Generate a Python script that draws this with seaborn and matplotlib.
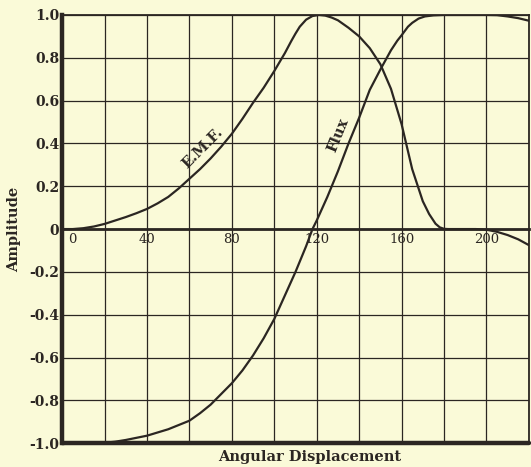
import matplotlib.pyplot as plt
import matplotlib.transforms as mtransforms
import seaborn as sns
import pandas as pd

# values (degrees -> amplitude)
emf_deg = [0, 5, 10, 15, 20, 25, 30, 35, 40, 45, 50, 55, 60, 65, 70, 75, 80, 85,
           90, 95, 100, 105, 108, 110, 112, 115, 118, 121, 124, 127, 130, 135, 140,
           145, 150, 155, 160, 165, 170, 173, 176, 178, 180, 182, 190, 195, 200,
           205, 210, 215, 220]
emf_amp = [0.0, 0.0, 0.004, 0.012, 0.024, 0.04, 0.056, 0.074, 0.094, 0.12, 0.15,
           0.19, 0.235, 0.28, 0.33, 0.385, 0.445, 0.515, 0.59, 0.66, 0.738, 0.822,
           0.878, 0.913, 0.945, 0.978, 0.995, 1.0, 0.997, 0.988, 0.975, 0.94, 0.9,
           0.845, 0.77, 0.655, 0.49, 0.28, 0.13, 0.07, 0.025, 0.008, 0.001, 0.0,
           0.0, 0.0, -0.003, -0.013, -0.028, -0.048, -0.075]

flux_deg = [0, 5, 10, 15, 20, 25, 30, 35, 40, 45, 50, 55, 60, 65, 70, 75, 80, 85,
            90, 95, 100, 105, 110, 115, 118, 120, 125, 130, 135, 140, 145, 150,
            155, 158, 160, 163, 165, 168, 171, 175, 180, 190, 200, 205, 210, 215, 220]
flux_amp = [-1.0, -1.0, -1.0, -1.0, -0.998, -0.993, -0.985, -0.975, -0.965, -0.95,
            -0.935, -0.915, -0.895, -0.86, -0.82, -0.77, -0.72, -0.66, -0.59,
            -0.51, -0.42, -0.31, -0.2, -0.08, 0.0, 0.04, 0.15, 0.27, 0.4, 0.52,
            0.65, 0.745, 0.835, 0.88, 0.905, 0.945, 0.963, 0.983, 0.993, 0.998,
            1.0, 1.0, 1.0, 0.999, 0.993, 0.985, 0.973]

x_ticks = [0, 40, 80, 120, 160, 200]
x_grid = [20, 60, 100, 140, 180, 220]
y_ticks = [1.0, 0.8, 0.6, 0.4, 0.2, 0.0, -0.2, -0.4, -0.6, -0.8, -1.0]
y_labels = ["1.0", "0.8", "0.6", "0.4", "0.2", "0", "-0.2", "-0.4", "-0.6", "-0.8", "-1.0"]

paper = "#fafad8"
ink = "#2b2622"

sns.set_style("white")
plt.rcParams["font.family"] = ["DejaVu Serif"]

fig, ax = plt.subplots(figsize=(5.31, 4.67), dpi=100)
fig.patch.set_facecolor(paper)
ax.set_facecolor(paper)
fig.subplots_adjust(left=0.117, right=0.996, bottom=0.051, top=0.968)

emf = pd.DataFrame({"deg": emf_deg, "amp": emf_amp})
flux = pd.DataFrame({"deg": flux_deg, "amp": flux_amp})
sns.lineplot(data=emf, x="deg", y="amp", color=ink, lw=1.6, ax=ax, zorder=5)
sns.lineplot(data=flux, x="deg", y="amp", color=ink, lw=1.6, ax=ax, zorder=5)

ax.set_xlim(0, 220)
ax.set_ylim(-1.0, 1.0)

# zero line carries the x labels; frame at -1.0 drawn separately
ax.spines["bottom"].set_position(("data", 0))
ax.spines["bottom"].set_linewidth(2.0)
ax.spines["left"].set_linewidth(3.2)
ax.spines["top"].set_linewidth(1.3)
ax.spines["right"].set_linewidth(1.3)
for s in ax.spines.values():
    s.set_color(ink)
    s.set_zorder(6)
ax.axhline(-1.0, color=ink, lw=3.2, zorder=6, clip_on=False)

ax.set_xticks(x_ticks)
ax.set_xticks(x_grid, minor=True)
ax.set_yticks(y_ticks)
ax.set_yticklabels(y_labels, fontweight="bold", fontsize=10)
ax.set_xticklabels([str(v) for v in x_ticks], fontsize=9.5)
ax.tick_params(axis="both", which="both", length=0)
ax.tick_params(axis="x", pad=3, colors=ink)
ax.tick_params(axis="y", pad=2, colors=ink)

# the "0" label sits just right of the left frame
zero_lbl = ax.get_xticklabels()[0]
zero_lbl.set_ha("left")
zero_lbl.set_transform(zero_lbl.get_transform()
                       + mtransforms.ScaledTranslation(4 / 72, 0, fig.dpi_scale_trans))

ax.grid(True, which="both", color=ink, lw=0.9)
ax.set_axisbelow(True)

ax.text(66, 0.38, "E.M.F.", rotation=45, ha="center", va="center",
        fontsize=10.5, fontweight="bold", color=ink)
ax.text(130, 0.44, "Flux", rotation=68, ha="center", va="center",
        fontsize=10.5, fontweight="bold", color=ink)

ax.set_ylabel("Amplitude", fontweight="bold", fontsize=10.5, color=ink)
ax.yaxis.set_label_coords(-0.088, 0.5)
ax.set_xlabel("Angular Displacement", fontweight="bold", fontsize=10.5, color=ink)
ax.xaxis.set_label_coords(0.53, -0.015)

fig.savefig("out.png", dpi=100, facecolor=paper)
plt.close(fig)
